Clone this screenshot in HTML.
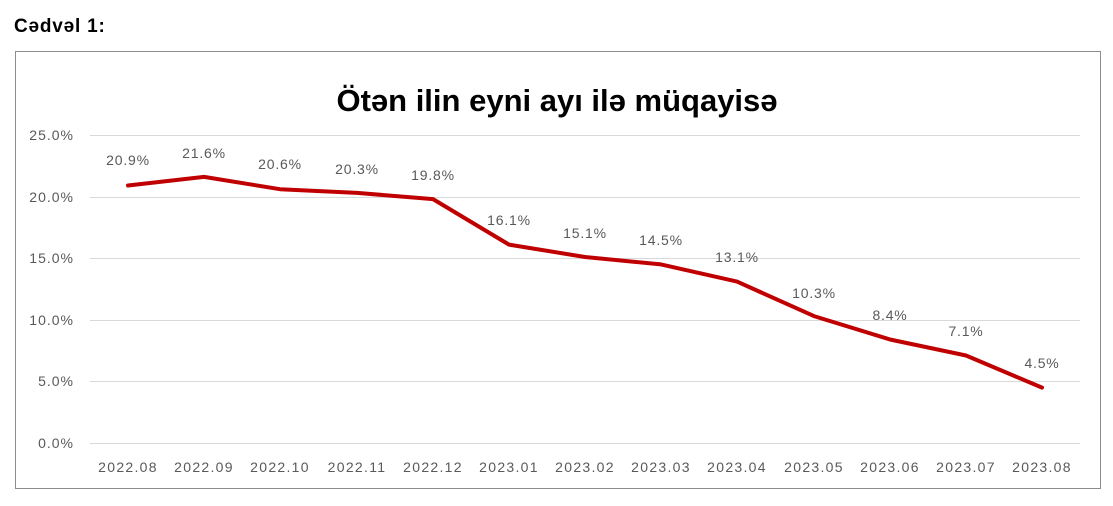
<!DOCTYPE html>
<html><head><meta charset="utf-8"><style>
body{margin:0;background:#fff;width:1113px;height:501px;overflow:hidden}
</style></head><body>
<svg width="1113" height="501" xmlns="http://www.w3.org/2000/svg" font-family="Liberation Sans, sans-serif">
<text x="14" y="32" font-size="19" font-weight="bold" fill="#000" letter-spacing="0.8">Cədvəl 1:</text>
<rect x="15.5" y="51.5" width="1085" height="437" fill="#fff" stroke="#8c8c8c" stroke-width="1"/>
<text x="557" y="111" font-size="31" font-weight="bold" text-anchor="middle" fill="#000">Ötən ilin eyni ayı ilə müqayisə</text>
<g stroke="#d9d9d9" stroke-width="1">
<line x1="90" x2="1080" y1="135.5" y2="135.5"/>
<line x1="90" x2="1080" y1="197.5" y2="197.5"/>
<line x1="90" x2="1080" y1="258.5" y2="258.5"/>
<line x1="90" x2="1080" y1="320.5" y2="320.5"/>
<line x1="90" x2="1080" y1="381.5" y2="381.5"/>
<line x1="90" x2="1080" y1="443.5" y2="443.5"/>
</g>
<g font-size="14" fill="#595959" text-anchor="end" letter-spacing="1">
<text x="74" y="140">25.0%</text>
<text x="74" y="202">20.0%</text>
<text x="74" y="263">15.0%</text>
<text x="74" y="325">10.0%</text>
<text x="74" y="386">5.0%</text>
<text x="74" y="448">0.0%</text>
</g>
<g font-size="14" fill="#595959" text-anchor="middle" letter-spacing="1.3">
<text x="128" y="472">2022.08</text><text x="204" y="472">2022.09</text><text x="280" y="472">2022.10</text><text x="357" y="472">2022.11</text><text x="433" y="472">2022.12</text><text x="509" y="472">2023.01</text><text x="585" y="472">2023.02</text><text x="661" y="472">2023.03</text><text x="737" y="472">2023.04</text><text x="814" y="472">2023.05</text><text x="890" y="472">2023.06</text><text x="966" y="472">2023.07</text><text x="1042" y="472">2023.08</text>
</g>
<polyline fill="none" stroke="#c00000" stroke-width="4" stroke-linejoin="round" stroke-linecap="round"
points="128,185.5 204,176.9 280,189.2 357,192.9 433,199.1 509,244.6 585,257 661,264.4 737,281.6 814,316.1 890,339.5 966,355.5 1042,387.6"/>
<g font-size="14" fill="#595959" text-anchor="middle" letter-spacing="0.8">
<text x="128" y="165">20.9%</text><text x="204" y="158">21.6%</text><text x="280" y="169">20.6%</text><text x="357" y="174">20.3%</text><text x="433" y="180">19.8%</text><text x="509" y="225">16.1%</text><text x="585" y="238">15.1%</text><text x="661" y="245">14.5%</text><text x="737" y="262">13.1%</text><text x="814" y="298">10.3%</text><text x="890" y="320">8.4%</text><text x="966" y="336">7.1%</text><text x="1042" y="368">4.5%</text>
</g>
</svg>
</body></html>
